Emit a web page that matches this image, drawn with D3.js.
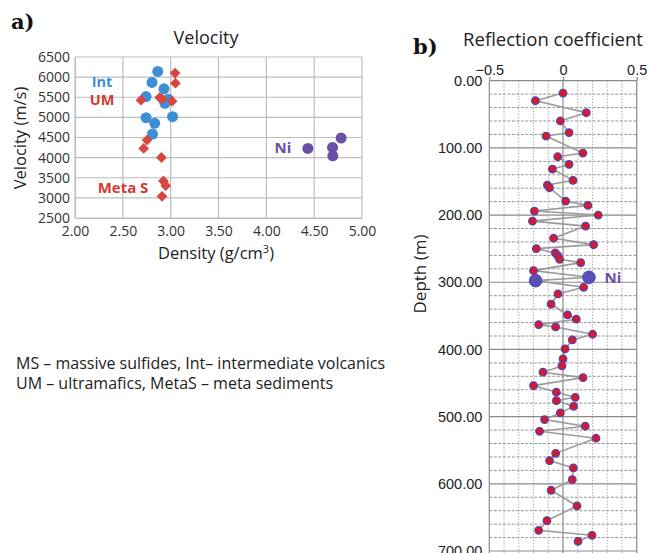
<!DOCTYPE html>
<html><head><meta charset="utf-8">
<script src="https://cdn.jsdelivr.net/npm/d3@7"></script>
<style>body{margin:0;background:#fff}svg{display:block}</style>
</head><body>
<svg id="c" width="647" height="553"></svg>
<script>
// ---- Panel a data ----
const intDensity  = [2.865, 2.805, 2.93, 2.743, 2.976, 2.94, 3.02, 2.743, 2.833, 2.81];
const intVelocity = [6141, 5867, 5709, 5517, 5451, 5351, 5018, 4993, 4852, 4586];
const umDensity   = [3.046, 3.05, 2.69, 2.885, 2.91, 3.015, 2.753, 2.718, 2.903, 2.924, 2.948, 2.91];
const umVelocity  = [6100, 5850, 5426, 5492, 5460, 5401, 4436, 4228, 4003, 3421, 3304, 3038];
const niDensity   = [4.434, 4.692, 4.695, 4.782];
const niVelocity  = [4228, 4253, 4045, 4487];
const densityTicks  = [2.0, 2.5, 3.0, 3.5, 4.0, 4.5, 5.0];
const velocityTicks = [2500, 3000, 3500, 4000, 4500, 5000, 5500, 6000, 6500];
// ---- Panel b data ----
const rcDepth = [18.4, 29.8, 47.6, 60, 77.4, 82.4, 107.7, 113.2, 124.6, 131.5, 148.4, 155.3, 159.3, 179.2, 185.6, 194, 200, 209, 216.4,
  234.5, 244, 250, 256.4, 260.4, 265.8, 270.8, 282.7, 292.6, 297.6, 307.5, 317.4, 332.7, 348.6, 355, 363, 366.5, 377.4, 385.8, 399.2,
  414.1, 424.5, 433.9, 441.9, 453.8, 463.7, 471.2, 476.2, 484.6, 494.5, 504.4, 514.3, 521.8, 532.2, 554.6, 565.5, 576.4, 593.8, 609.6,
  633, 654.8, 669.2, 676.6, 685.6];
const rcValue = [0, -0.187, 0.158, -0.018, 0.041, -0.115, 0.135, -0.036, 0.041, -0.072, 0.068, -0.106, -0.092, 0.018, 0.169, -0.194, 0.239, -0.207, 0.153,
  -0.064, 0.208, -0.181, -0.052, -0.036, -0.023, 0.12, -0.2, 0.176, -0.186, 0.14, -0.034, -0.081, 0.031, 0.09, -0.165, -0.05, 0.201, 0.063, 0.014,
  0, -0.007, -0.136, 0.136, -0.2, -0.045, 0.083, -0.045, 0.072, -0.018, -0.125, 0.151, -0.159, 0.224, -0.05, -0.091, 0.07, 0.063, -0.081,
  0.095, -0.109, -0.165, 0.197, 0.102];
const niPointIdx = [27, 28];
const rcTicks = [-0.5, 0, 0.5];
const depthTicks = [0, 100, 200, 300, 400, 500, 600, 700];

const svg = d3.select("#c");
const sans = "'Open Sans', sans-serif";
const cBlue = "#3b8fd2", cRed = "#d9463f", cPurple = "#6b4ea6";

// ================= Panel a =================
const xa = d3.scaleLinear().domain([2, 5]).range([75, 362]);
const ya = d3.scaleLinear().domain([2500, 6500]).range([218, 57]);
const ga = svg.append("g");
ga.append("g").selectAll("line").data(densityTicks).join("line")
  .attr("x1", d => xa(d)).attr("x2", d => xa(d)).attr("y1", ya(2500)).attr("y2", ya(6500))
  .attr("stroke", "#bdbdbd").attr("stroke-width", 1.2);
ga.append("g").selectAll("line").data(velocityTicks).join("line")
  .attr("x1", xa(2)).attr("x2", xa(5)).attr("y1", d => ya(d)).attr("y2", d => ya(d))
  .attr("stroke", "#bdbdbd").attr("stroke-width", 1.2);
const axA = ga.append("g").attr("transform", `translate(0,${ya(2500)})`)
  .call(d3.axisBottom(xa).tickValues(densityTicks).tickFormat(d3.format(".2f")).tickSize(0).tickPadding(8));
const ayA = ga.append("g").attr("transform", `translate(${xa(2)},0)`)
  .call(d3.axisLeft(ya).tickValues(velocityTicks).tickFormat(d3.format("d")).tickSize(0).tickPadding(5));
[axA, ayA].forEach(a => { a.select(".domain").attr("stroke", "#bdbdbd"); a.selectAll("text").attr("font-family", sans).attr("fill", "#333").attr("font-size", 14); });

ga.append("g").selectAll("circle").data(intDensity).join("circle")
  .attr("cx", d => xa(d)).attr("cy", (d, i) => ya(intVelocity[i])).attr("r", 5.5).attr("fill", cBlue);
ga.append("g").selectAll("path").data(umDensity).join("path")
  .attr("d", d3.symbol(d3.symbolSquare, 58))
  .attr("transform", (d, i) => `translate(${xa(d)},${ya(umVelocity[i])}) rotate(45)`).attr("fill", cRed);
ga.append("g").selectAll("circle").data(niDensity).join("circle")
  .attr("cx", d => xa(d)).attr("cy", (d, i) => ya(niVelocity[i])).attr("r", 5.5).attr("fill", cPurple);

const lab = (x, y, t, c, fs) => svg.append("text").attr("x", x).attr("y", y).attr("text-anchor", "middle")
  .attr("font-family", sans).attr("font-weight", "bold").attr("font-size", fs).attr("fill", c).text(t);
lab(102, 86.5, "Int", cBlue, 14.5);
lab(102, 105, "UM", "#d43a34", 14.5);
lab(123, 193, "Meta S", "#d43a34", 15);
lab(283, 153, "Ni", cPurple, 15);

svg.append("text").attr("x", 206).attr("y", 44).attr("text-anchor", "middle").attr("font-family", sans)
  .attr("font-size", 18).attr("fill", "#222").text("Velocity");
svg.append("text").attr("transform", "translate(26,138) rotate(-90)").attr("text-anchor", "middle")
  .attr("font-family", sans).attr("font-size", 16.5).attr("fill", "#222").text("Velocity (m/s)");
const xl = svg.append("text").attr("x", 216).attr("y", 259).attr("text-anchor", "middle")
  .attr("font-family", sans).attr("font-size", 16.5).attr("fill", "#222");
xl.append("tspan").text("Density (g/cm");
xl.append("tspan").attr("dy", -6).attr("font-size", 11).text("3");
xl.append("tspan").attr("dy", 6).text(")");

svg.append("text").attr("x", 11).attr("y", 29).attr("font-family", "'DejaVu Serif', serif").attr("font-weight", "bold")
  .attr("font-size", 21).attr("fill", "#111").text("a)");
svg.append("text").attr("x", 413).attr("y", 54).attr("font-family", "'DejaVu Serif', serif").attr("font-weight", "bold")
  .attr("font-size", 21).attr("fill", "#111").text("b)");

svg.append("text").attr("x", 16).attr("y", 368.5).attr("font-family", sans).attr("font-size", 16).attr("fill", "#222")
  .text("MS – massive sulfides, Int– intermediate volcanics");
svg.append("text").attr("x", 16).attr("y", 389).attr("font-family", sans).attr("font-size", 16).attr("fill", "#222")
  .text("UM – ultramafics, MetaS – meta sediments");

// ================= Panel b =================
const xb = d3.scaleLinear().domain([-0.5, 0.5]).range([489.3, 636.7]);
const yb = d3.scaleLinear().domain([0, 700]).range([80.7, 551]);
const gb = svg.append("g");
const minorX = d3.range(-0.4, 0.45, 0.1).filter(v => Math.abs(v) > 1e-6);
gb.append("g").selectAll("line").data(minorX).join("line")
  .attr("x1", d => xb(d)).attr("x2", d => xb(d)).attr("y1", yb(0)).attr("y2", 553)
  .attr("stroke", "#9a9a9a").attr("stroke-width", 0.8).attr("stroke-dasharray", "1.5,1.5");
const minorY = d3.range(20, 700, 20).filter(v => v % 100 !== 0);
gb.append("g").selectAll("line").data(minorY).join("line")
  .attr("x1", xb(-0.5)).attr("x2", xb(0.5)).attr("y1", d => yb(d)).attr("y2", d => yb(d))
  .attr("stroke", "#8a8a8a").attr("stroke-width", 0.9).attr("stroke-dasharray", "3,1.5");
gb.append("g").selectAll("line").data(depthTicks).join("line")
  .attr("x1", xb(-0.5)).attr("x2", xb(0.5)).attr("y1", d => yb(d)).attr("y2", d => yb(d))
  .attr("stroke", "#8a8a8a").attr("stroke-width", 1.2);
gb.append("g").selectAll("line").data(rcTicks).join("line")
  .attr("x1", d => xb(d)).attr("x2", d => xb(d)).attr("y1", yb(0)).attr("y2", 553)
  .attr("stroke", "#8a8a8a").attr("stroke-width", 1.2);

const axB = gb.append("g").attr("transform", `translate(0,${yb(0)})`)
  .call(d3.axisTop(xb).tickValues(rcTicks).tickFormat(d => d === 0 ? "0" : d3.format(".1f")(d).replace("-", "−")).tickSize(4).tickPadding(2));
axB.selectAll(".tick line").attr("stroke", "#8a8a8a").attr("stroke-width", 1.2);
const ayB = gb.append("g").attr("transform", `translate(${xb(-0.5) - 7},0)`)
  .call(d3.axisLeft(yb).tickValues(depthTicks).tickFormat(d3.format(".2f")).tickSize(0).tickPadding(0));
[axB, ayB].forEach(a => { a.select(".domain").remove(); a.selectAll("text").attr("font-family", "'Liberation Sans', Arial, sans-serif").attr("font-size", 14.5).attr("fill", "#222"); });

gb.append("path").datum(rcValue.map((v, i) => [v, rcDepth[i]]))
  .attr("d", d3.line().x(d => xb(d[0])).y(d => yb(d[1])))
  .attr("fill", "none").attr("stroke", "#9b9b9b").attr("stroke-width", 1.6);
gb.append("g").selectAll("circle").data(rcValue.map((v, i) => i).filter(i => !niPointIdx.includes(i))).join("circle")
  .attr("cx", i => xb(rcValue[i])).attr("cy", i => yb(rcDepth[i])).attr("r", 3.8)
  .attr("fill", "#d7192e").attr("stroke", "#4b45b5").attr("stroke-width", 1.2);
gb.append("g").selectAll("circle").data(niPointIdx).join("circle")
  .attr("cx", i => xb(rcValue[i])).attr("cy", i => yb(rcDepth[i])).attr("r", 6.3)
  .attr("fill", "#5a4fb4").attr("stroke", "#4b45b5").attr("stroke-width", 1);

svg.append("text").attr("x", 613).attr("y", 283).attr("text-anchor", "middle").attr("font-family", sans)
  .attr("font-weight", "bold").attr("font-size", 15).attr("fill", cPurple).text("Ni");
svg.append("text").attr("x", 553).attr("y", 46).attr("text-anchor", "middle").attr("font-family", sans)
  .attr("font-size", 18.5).attr("fill", "#222").text("Reflection coefficient");
svg.append("text").attr("transform", "translate(426,274) rotate(-90)").attr("text-anchor", "middle")
  .attr("font-family", sans).attr("font-size", 17).attr("fill", "#222").text("Depth (m)");
</script>
</body></html>
